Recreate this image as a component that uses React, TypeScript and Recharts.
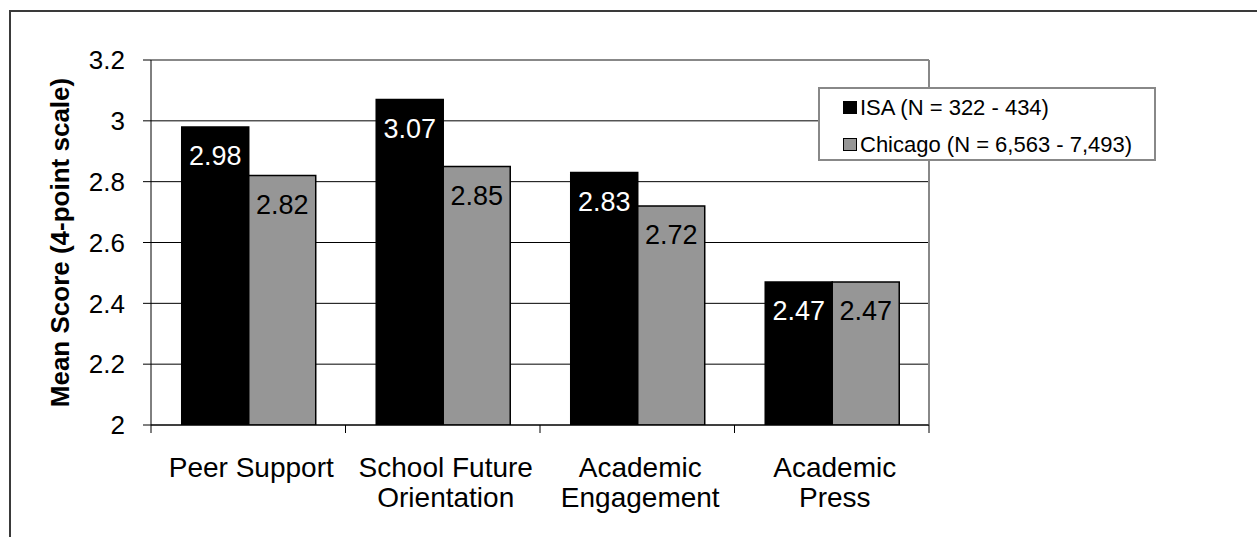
import React from "react";
import {
  BarChart,
  Bar,
  XAxis,
  YAxis,
  CartesianGrid,
  Legend,
  LabelList,
  ReferenceLine,
} from "recharts";

const categories = [
  "Peer Support",
  "School Future Orientation",
  "Academic Engagement",
  "Academic Press",
];
const tickLabels = [
  ["Peer Support"],
  ["School Future", "Orientation"],
  ["Academic", "Engagement"],
  ["Academic", "Press"],
];
const isaValues = [2.98, 3.07, 2.83, 2.47];
const chicagoValues = [2.82, 2.85, 2.72, 2.47];
const yTicks = [2, 2.2, 2.4, 2.6, 2.8, 3, 3.2];
const isaName = "ISA (N = 322 - 434)";
const chicagoName = "Chicago (N = 6,563 - 7,493)";
const seriesOrder = [isaName, chicagoName];
const yTitle = "Mean Score (4-point scale)";

const data = categories.map((name, i) => ({
  name,
  isa: isaValues[i],
  chicago: chicagoValues[i],
}));

const FONT = '"Liberation Sans", Arial, sans-serif';
const X_TICK = 8;
const GRAY = "#969696";

function XTick(props: any) {
  const { x, y, payload } = props;
  const idx = categories.indexOf(payload.value);
  const half = payload.offset ?? 97;
  const axisY = y - X_TICK;
  const lines = tickLabels[idx] || [payload.value];
  return (
    <g>
      <line x1={x - half} y1={axisY} x2={x - half} y2={axisY + X_TICK} stroke="#000" />
      {idx === categories.length - 1 && (
        <line x1={x + half} y1={axisY} x2={x + half} y2={axisY + X_TICK} stroke="#000" />
      )}
      <text x={x} textAnchor="middle" fontSize={28} fill="#000" fontFamily={FONT}>
        {lines.map((l, i) => (
          <tspan key={i} x={x + 3} y={axisY + 52 + i * 30}>
            {l}
          </tspan>
        ))}
      </text>
    </g>
  );
}

function YTitle(props: any) {
  const vb = props.viewBox || { x: 0, y: 0, height: 0 };
  const cx = vb.x + 22;
  const cy = vb.y + vb.height / 2;
  return (
    <text
      x={cx}
      y={cy}
      transform={`rotate(-90, ${cx}, ${cy})`}
      textAnchor="middle"
      dominantBaseline="central"
      fontSize={26}
      fontWeight="bold"
      fontFamily={FONT}
      fill="#000"
    >
      {yTitle}
    </text>
  );
}

function LegendBox(props: any) {
  const items = [...(props.payload || [])].sort(
    (a: any, b: any) => seriesOrder.indexOf(a.value) - seriesOrder.indexOf(b.value)
  );
  return (
    <div
      style={{
        width: 338,
        height: 74,
        boxSizing: "border-box",
        border: "2px solid #888",
        background: "#fff",
        paddingLeft: 23,
        fontSize: 22,
        fontFamily: FONT,
        color: "#000",
      }}
    >
      {items.map((it: any) => (
        <div key={it.value} style={{ height: 37, display: "flex", alignItems: "center" }}>
          <span
            style={{
              display: "inline-block",
              width: 14,
              height: 13,
              boxSizing: "border-box",
              background: it.color,
              border: "1.5px solid #000",
              marginRight: 3,
            }}
          />
          <span>{it.value}</span>
        </div>
      ))}
    </div>
  );
}

export default function App() {
  return (
    <div
      style={{
        position: "fixed",
        left: 0,
        top: 0,
        width: 1257,
        height: 537,
        overflow: "hidden",
        background: "#fff",
        fontFamily: FONT,
      }}
    >
      <div
        style={{
          position: "absolute",
          left: 9,
          top: 10,
          width: 1400,
          height: 700,
          borderLeft: "2px solid #3a3a3a",
          borderTop: "2px solid #3a3a3a",
        }}
      />
      <div style={{ position: "absolute", left: 8, top: 8 }}>
        <BarChart
          width={1249}
          height={529}
          data={data}
          margin={{ top: 52, right: 328, bottom: 17, left: 30 }}
          barCategoryGap="15.8%"
          barGap={0}
        >
          <CartesianGrid vertical={false} stroke="#000" strokeOpacity={1} />
          <XAxis
            dataKey="name"
            height={95}
            interval={0}
            axisLine={{ stroke: "#000" }}
            tickLine={false}
            tickSize={X_TICK}
            tickMargin={0}
            tick={<XTick />}
          />
          <YAxis
            width={113}
            domain={[2, 3.2]}
            ticks={yTicks}
            allowDataOverflow
            axisLine={{ stroke: "#000" }}
            tickLine={{ stroke: "#000" }}
            tickSize={8}
            tickMargin={18}
            tick={{ fontSize: 26, fill: "#000", fontFamily: FONT }}
            label={{ content: <YTitle /> }}
          />
          <ReferenceLine y={3.2} stroke="#888" strokeWidth={2} />
          <ReferenceLine x="Academic Press" position="end" stroke="#888" strokeWidth={2} />
          <Bar
            dataKey="isa"
            name={isaName}
            fill="#000"
            stroke="#000"
            strokeWidth={1.5}
            isAnimationActive={false}
          >
            <LabelList
              dataKey="isa"
              position="insideTop"
              offset={19}
              fill="#fff"
              fontSize={27}
              fontFamily={FONT}
              formatter={(v: any) => Number(v).toFixed(2)}
            />
          </Bar>
          <Bar
            dataKey="chicago"
            name={chicagoName}
            fill={GRAY}
            stroke="#000"
            strokeWidth={1.5}
            isAnimationActive={false}
          >
            <LabelList
              dataKey="chicago"
              position="insideTop"
              offset={19}
              fill="#000"
              fontSize={27}
              fontFamily={FONT}
              formatter={(v: any) => Number(v).toFixed(2)}
            />
          </Bar>
          <Legend
            layout="vertical"
            align="center"
            verticalAlign="middle"
            wrapperStyle={{ top: 79, left: 810, width: 338, height: 74 }}
            content={<LegendBox />}
          />
        </BarChart>
      </div>
    </div>
  );
}
